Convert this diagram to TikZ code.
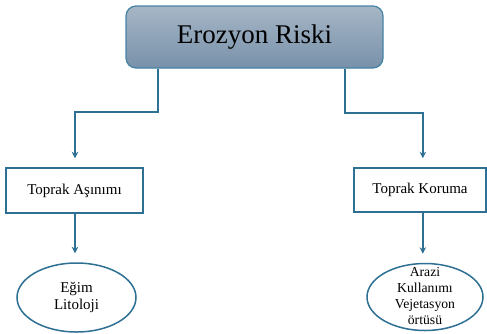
\documentclass[tikz,border=0pt]{standalone}
\usepackage{fontspec}
\setmainfont{Liberation Serif}
\usetikzlibrary{arrows.meta,shapes.geometric}
\definecolor{edge}{RGB}{46,112,148}
\definecolor{topedge}{RGB}{70,130,165}
\definecolor{gtop}{RGB}{166,182,198}
\definecolor{gbot}{RGB}{120,145,170}
\tikzset{
  titlebox/.style={draw=topedge, line width=1.2pt, rounded corners=10pt, top color=gtop, bottom color=gbot,
    minimum width=257pt, minimum height=62pt, inner sep=0pt, font=\fontsize{27}{30}\selectfont},
  midbox/.style={draw=edge, line width=1.5pt, fill=white, inner sep=0pt, font=\fontsize{15}{17}\selectfont},
  leaf/.style={ellipse, draw=edge, line width=1.5pt, fill=white, inner sep=0pt},
  leaftext/.style={align=center, inner sep=0pt},
  conn/.style={draw=edge, line width=1.5pt, -{Stealth[length=6.5pt,width=6.5pt]}, shorten >=9pt},
}
\begin{document}
\begin{tikzpicture}[x=1pt,y=-1pt]
\useasboundingbox (0,0) rectangle (487,333);
\node[titlebox] (top) at (254.5,37) {Erozyon Riski};
\node[midbox, minimum width=137pt, minimum height=45pt] (tb1) at (74.5,190.5) {Toprak Aşınımı};
\node[midbox, minimum width=132pt, minimum height=44pt] (tb2) at (420,190) {Toprak Koruma};
\node[leaf, minimum width=119pt, minimum height=69pt] (el1) at (76.5,297.5) {};
\node[leaftext, font=\fontsize{15}{17}\selectfont] (t1) at (el1.center) {Eğim\\Litoloji};
\node[leaf, minimum width=116pt, minimum height=67pt] (el2) at (425,297) {};
\node[leaftext, font=\fontsize{13.7}{16}\selectfont] (t2) at ([yshift=1pt]el2.center) {Arazi\\Kullanımı\\Vejetasyon\\örtüsü};
\coordinate (j1) at (158,112);
\coordinate (j2) at (345,113);
\draw[conn] (top.south -| j1) -- (j1) -| ([xshift=0.5pt]tb1.north);
\draw[conn] (top.south -| j2) -- (j2) -| ([xshift=2.8pt]tb2.north);
\draw[conn] ([xshift=0.5pt]tb1.south) -- ([xshift=0.5pt]tb1.south |- el1.north);
\draw[conn] ([xshift=2.8pt]tb2.south) -- ([xshift=2.8pt]tb2.south |- el2.north);
\end{tikzpicture}
\end{document}
